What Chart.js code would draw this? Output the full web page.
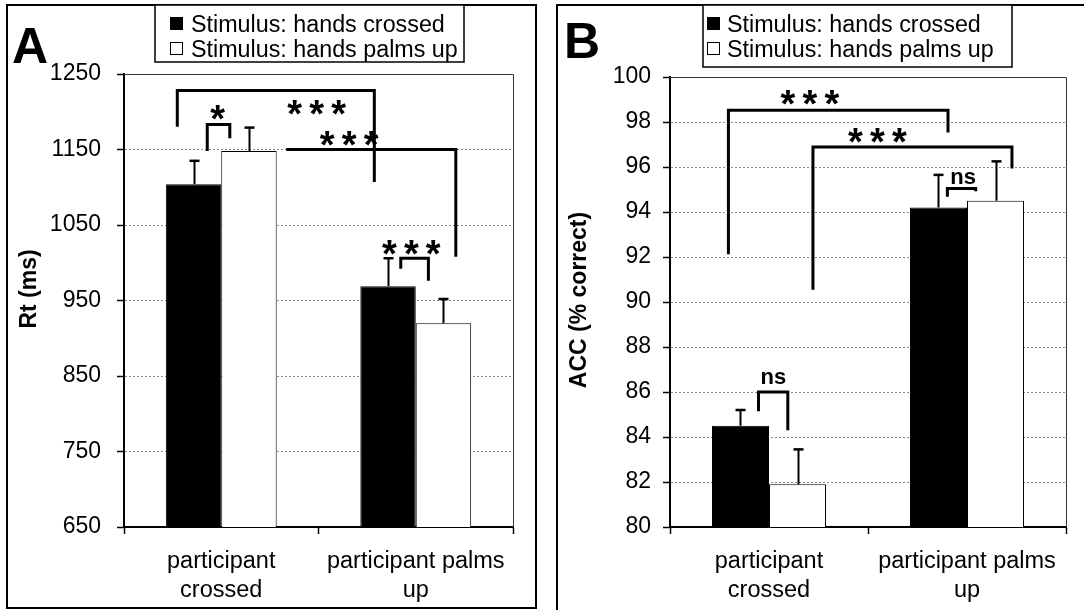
<!DOCTYPE html>
<html><head><meta charset="utf-8">
<script src="https://cdn.jsdelivr.net/npm/chart.js@4.4.1/dist/chart.umd.min.js"></script>
<style>
html,body{margin:0;padding:0;background:#fff;overflow:hidden;width:1084px;height:610px;}
.frame{position:absolute;border:2px solid #000;box-sizing:border-box;}
#fa{left:6px;top:4px;width:531px;height:605px;}
#fb{left:556px;top:4px;width:560px;height:640px;}
canvas{position:absolute;top:0;}
#ca{left:0;}
#cb{left:545px;}
</style></head><body>
<div class="frame" id="fa"></div><div class="frame" id="fb"></div>
<canvas id="ca" width="545" height="610"></canvas>
<canvas id="cb" width="539" height="610"></canvas>
<script>
// ---- data ----
const categories = [['participant', 'crossed'], ['participant palms', 'up']];
const seriesNames = ['Stimulus: hands crossed', 'Stimulus: hands palms up'];

const rtHandsCrossed = [1104, 969];
const rtHandsPalmsUp = [1148, 920];
const rtErrHandsCrossed = [31, 37];
const rtErrHandsPalmsUp = [31, 32];
const rtTicks = [650, 750, 850, 950, 1050, 1150, 1250];

const accHandsCrossed = [84.5, 94.2];
const accHandsPalmsUp = [81.9, 94.5];
const accErrHandsCrossed = [0.7, 1.45];
const accErrHandsPalmsUp = [1.55, 1.75];
const accTicks = [80, 82, 84, 86, 88, 90, 92, 94, 96, 98, 100];

// significance brackets: [xLeft, xRight (category units), yTop, yLeftEnd, yRightEnd (value units)]
const rtBrackets = [
  [-0.226, 0.787, 1228, 1180, 1107],
  [0.334, 1.206, 1150, 1150, 1008],
  [-0.072, 0.044, 1183, 1148, 1165],
  [0.923, 1.065, 1006, 992, 976]
];
const rtBracketLabels = ['***', '***', '*', '***'];
const rtBracketLabelAt = [[0.49, 1206], [0.658, 1165], [-0.018, 1199], [0.977, 1020]];

const accBrackets = [
  [-0.205, 0.904, 98.52, 92.12, 97.53],
  [0.222, 1.227, 96.89, 90.55, 95.93],
  [0.901, 1.044, 95.04, 94.68, 94.92],
  [-0.053, 0.095, 86.0, 85.14, 84.3]
];
const accBracketLabels = ['***', '***', 'ns', 'ns'];
const accBracketLabelAt = [[0.207, 99.11], [0.548, 97.41], [0.98, 95.5], [0.022, 86.63]];

// ---- rendering ----
const FAM = "'Liberation Sans', Arial, Helvetica, sans-serif";

function centeredText(ctx, text, cx, cy, font, spacing) {
  ctx.save();
  ctx.font = font;
  ctx.fillStyle = '#000';
  ctx.textAlign = 'center';
  ctx.textBaseline = 'alphabetic';
  let sp = 0;
  if (spacing && 'letterSpacing' in ctx) { ctx.letterSpacing = spacing + 'px'; sp = spacing; }
  const m = ctx.measureText(text);
  const base = cy + (m.actualBoundingBoxAscent - m.actualBoundingBoxDescent) / 2;
  ctx.fillText(text, cx + sp / 2, base);
  ctx.restore();
}

function makePlugin(p) {
  return {
    id: 'extras' + p.letter,
    afterDatasetsDraw(chart) {
      const ctx = chart.ctx, ys = chart.scales.y, a = chart.chartArea;
      // plot area border (top, right)
      ctx.save();
      ctx.strokeStyle = '#333'; ctx.lineWidth = 1;
      ctx.beginPath();
      ctx.moveTo(a.left, a.top + 0.5); ctx.lineTo(a.right + 0.5, a.top + 0.5); ctx.lineTo(a.right + 0.5, a.bottom);
      ctx.stroke();
      ctx.restore();
      // error bars (upper only)
      p.errors.forEach((errs, d) => {
        const meta = chart.getDatasetMeta(d);
        meta.data.forEach((bar, i) => {
          const v = chart.data.datasets[d].data[i];
          const yt = ys.getPixelForValue(v + errs[i]);
          const x = Math.round(bar.x) + 0.5;
          ctx.save();
          ctx.strokeStyle = '#000'; ctx.lineWidth = 2;
          ctx.beginPath(); ctx.moveTo(x, bar.y); ctx.lineTo(x, yt); ctx.stroke();
          ctx.lineWidth = 2.5;
          ctx.beginPath(); ctx.moveTo(x - 5, yt); ctx.lineTo(x + 5, yt); ctx.stroke();
          ctx.restore();
        });
      });
    },
    afterDraw(chart) {
      const ctx = chart.ctx, xs = chart.scales.x, ys = chart.scales.y;
      // brackets
      p.brackets.forEach((b, k) => {
        const xl = xs.getPixelForValue(b[0]), xr = xs.getPixelForValue(b[1]);
        const yt = ys.getPixelForValue(b[2]), yl = ys.getPixelForValue(b[3]), yr = ys.getPixelForValue(b[4]);
        ctx.save();
        ctx.strokeStyle = '#000'; ctx.lineWidth = 3; ctx.lineJoin = 'miter'; ctx.lineCap = 'butt';
        ctx.beginPath(); ctx.moveTo(xl, yl); ctx.lineTo(xl, yt); ctx.lineTo(xr, yt); ctx.lineTo(xr, yr); ctx.stroke();
        ctx.restore();
        const lab = p.labels[k], at = p.labelAt[k];
        const lx = xs.getPixelForValue(at[0]), ly = ys.getPixelForValue(at[1]);
        if (lab.indexOf('*') >= 0) centeredText(ctx, lab, lx, ly, 'bold 38px ' + FAM, 7.2);
        else centeredText(ctx, lab, lx, ly, 'bold 22px ' + FAM, 0);
      });
      // y-axis title
      ctx.save();
      ctx.translate(p.titleX, p.titleY);
      ctx.rotate(-Math.PI / 2);
      ctx.font = 'bold 23px ' + FAM; ctx.fillStyle = '#000';
      ctx.textAlign = 'center'; ctx.textBaseline = 'middle';
      ctx.fillText(p.title, 0, 0);
      ctx.restore();
      // legend
      const L = p.legend;
      ctx.save();
      ctx.fillStyle = '#fff';
      ctx.fillRect(L.x, L.y, L.w, L.h);
      ctx.strokeStyle = '#000'; ctx.lineWidth = 1.5;
      ctx.strokeRect(L.x, L.y, L.w, L.h);
      ctx.font = '23.3px ' + FAM; ctx.textBaseline = 'alphabetic'; ctx.textAlign = 'left';
      chart.data.datasets.forEach((ds, i) => {
        const base = L.y + 27 + i * 25;
        ctx.fillStyle = ds.backgroundColor;
        ctx.fillRect(L.sx, base - 15, 13, 13);
        ctx.strokeStyle = '#000'; ctx.lineWidth = 1;
        ctx.strokeRect(L.sx + 0.5, base - 14.5, 12, 12);
        ctx.fillStyle = '#000';
        ctx.fillText(ds.label, L.tx, base);
      });
      // panel letter
      ctx.font = 'bold 50px ' + FAM; ctx.fillStyle = '#000';
      ctx.fillText(p.letter, p.letterX, p.letterY);
      ctx.restore();
    }
  };
}

function makeChart(id, o) {
  return new Chart(document.getElementById(id), {
    type: 'bar',
    data: {
      labels: categories,
      datasets: [
        { label: seriesNames[0], data: o.a, backgroundColor: '#000', borderColor: '#000', borderWidth: 1, barPercentage: 1, categoryPercentage: o.catPct },
        { label: seriesNames[1], data: o.b, backgroundColor: '#fff', borderColor: '#000', borderWidth: 1, barPercentage: 1, categoryPercentage: o.catPct }
      ]
    },
    options: {
      responsive: false, animation: false, devicePixelRatio: 1,
      layout: { padding: o.padding },
      plugins: { legend: { display: false }, tooltip: { enabled: false } },
      scales: {
        x: {
          offset: true,
          grid: { offset: true, drawOnChartArea: false, drawTicks: true, tickLength: 7, tickColor: '#000', tickWidth: 1.5 },
          border: { display: true, color: '#000', width: 2 },
          ticks: { color: '#000', font: { size: 23.5, family: FAM, lineHeight: 1.24 }, padding: 13, maxRotation: 0, autoSkip: false },
          afterFit(s) { s.height = 83; }
        },
        y: {
          min: o.ticks[0], max: o.ticks[o.ticks.length - 1],
          afterBuildTicks(s) { s.ticks = o.ticks.map(v => ({ value: v })); },
          grid: { color: '#8a8a8a', lineWidth: 1, drawTicks: true, tickLength: 7, tickColor: '#000', tickWidth: 1.5 },
          border: { display: true, color: '#000', width: 2, dash: [2, 2] },
          ticks: { color: '#000', font: { size: 23, family: FAM }, padding: o.tickPad, callback: v => String(v) },
          title: { display: false },
          afterFit(s) { s.width = o.yWidth; }
        }
      }
    },
    plugins: [makePlugin(o.extra)]
  });
}

makeChart('ca', {
  a: rtHandsCrossed, b: rtHandsPalmsUp, ticks: rtTicks, tickPad: 16,
  catPct: 0.57, yWidth: 124, padding: { left: 0, top: 74, right: 32, bottom: 0 },
  extra: {
    letter: 'A', letterX: 12, letterY: 63, title: 'Rt (ms)', titleX: 30, titleY: 289,
    errors: [rtErrHandsCrossed, rtErrHandsPalmsUp],
    brackets: rtBrackets, labels: rtBracketLabels, labelAt: rtBracketLabelAt,
    legend: { x: 155, y: 5, w: 309, h: 57, sx: 170, tx: 191 }
  }
});

makeChart('cb', {
  a: accHandsCrossed, b: accHandsPalmsUp, ticks: accTicks, tickPad: 12,
  catPct: 0.576, yWidth: 125, padding: { left: 0, top: 77, right: 18, bottom: 0 },
  extra: {
    letter: 'B', letterX: 19, letterY: 58, title: 'ACC (% correct)', titleX: 35, titleY: 300,
    errors: [accErrHandsCrossed, accErrHandsPalmsUp],
    brackets: accBrackets, labels: accBracketLabels, labelAt: accBracketLabelAt,
    legend: { x: 158, y: 5, w: 309, h: 62, sx: 162, tx: 182 }
  }
});
</script>
</body></html>
